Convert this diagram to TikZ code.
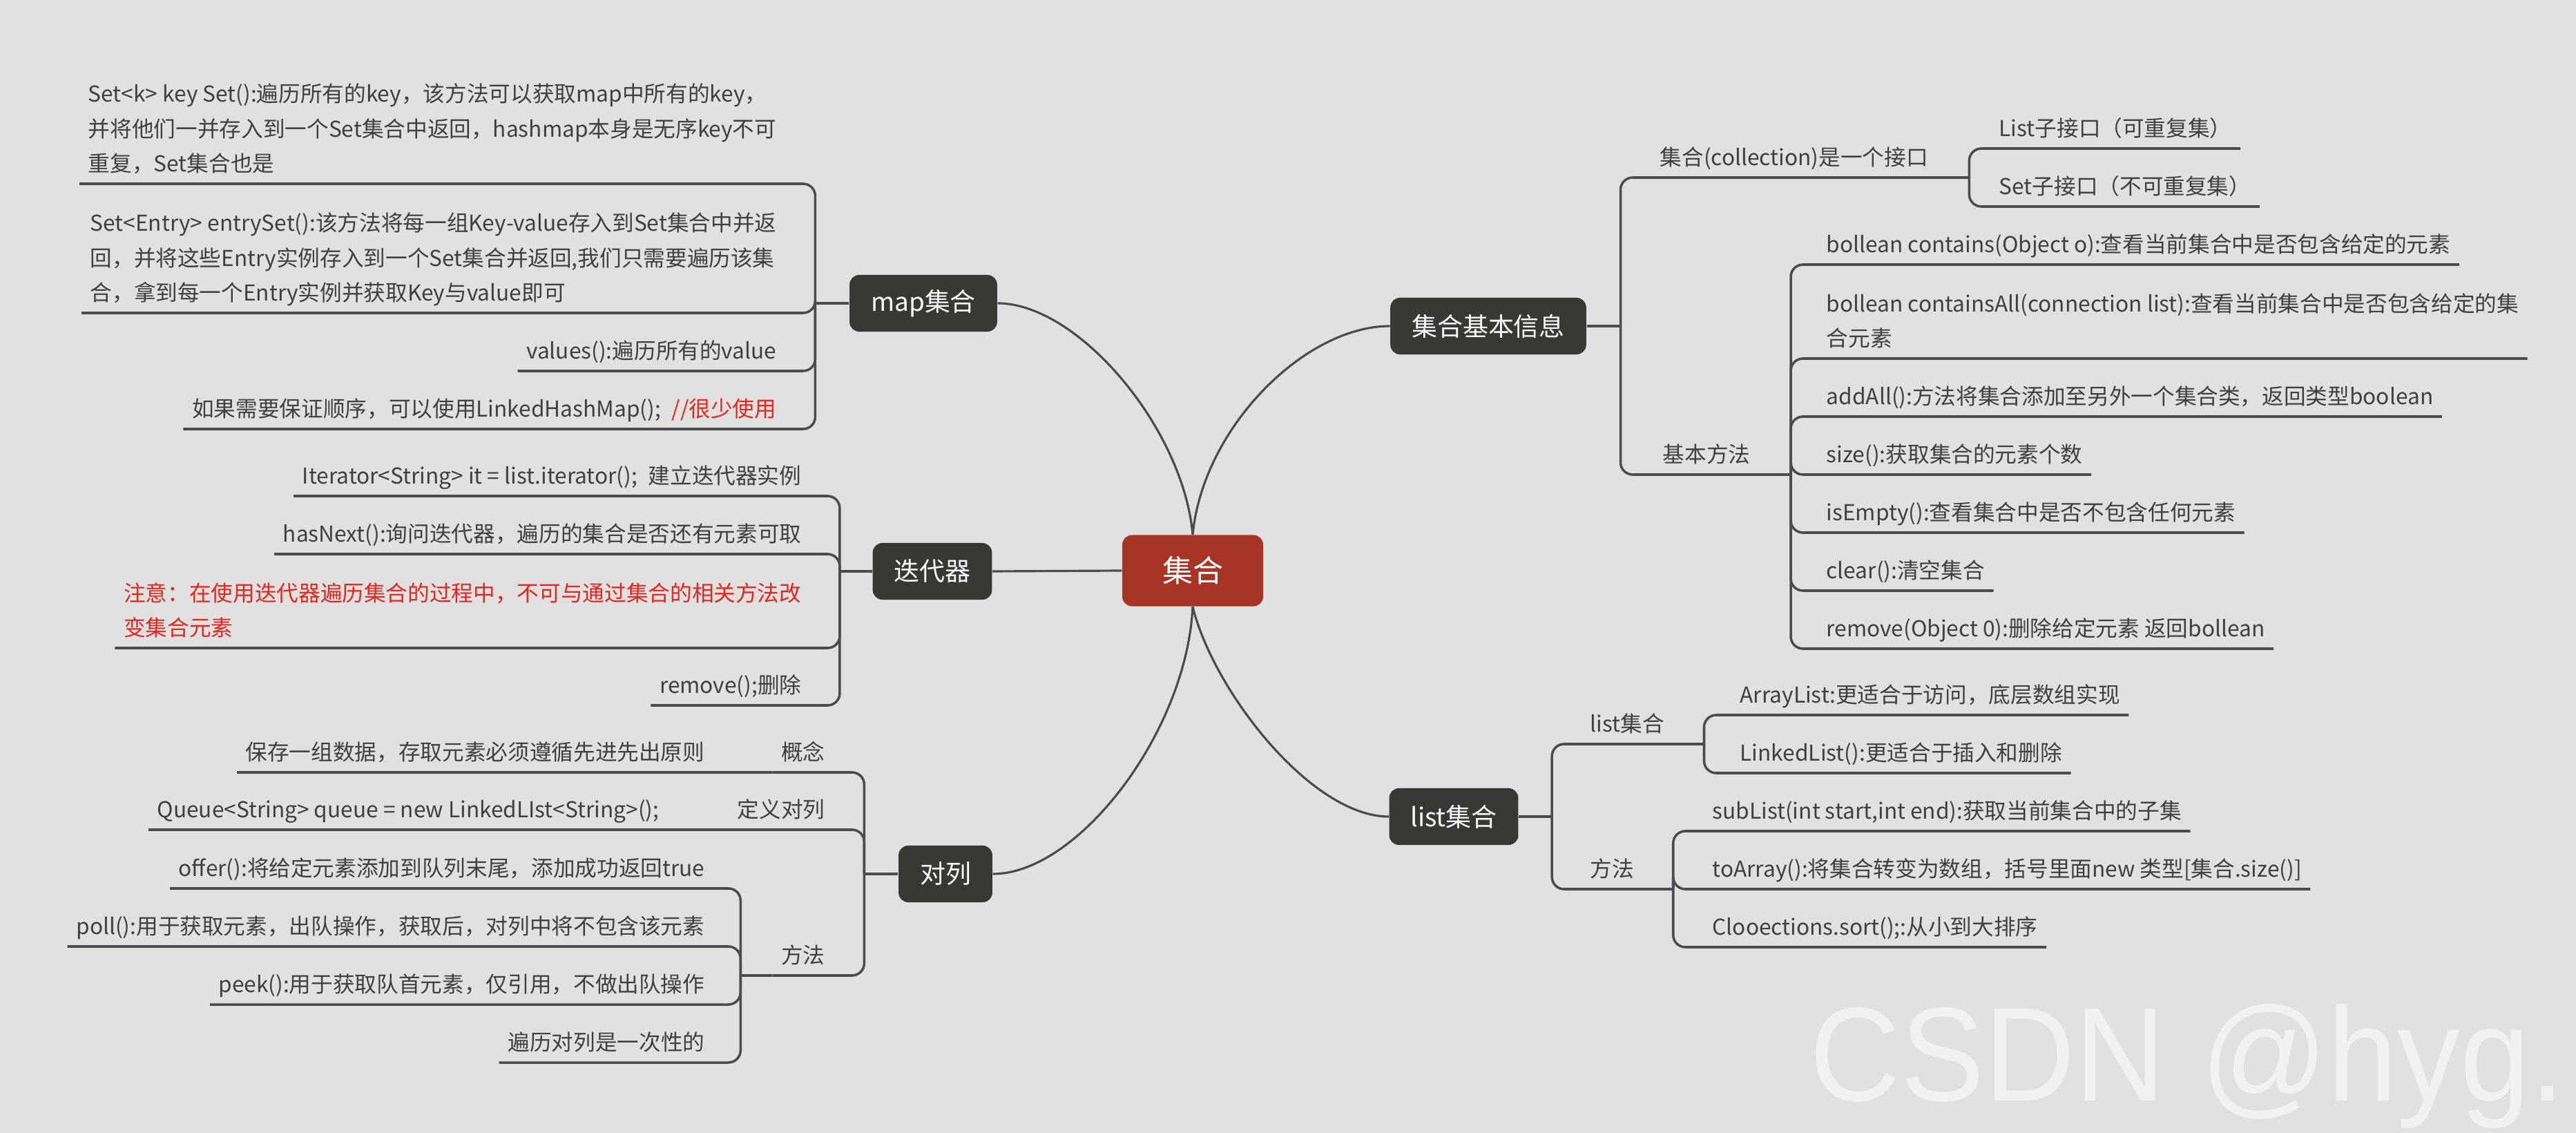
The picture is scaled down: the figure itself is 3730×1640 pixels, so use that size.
\documentclass[tikz,border=0pt]{standalone}
\usepackage{fontspec}
\setmainfont{Noto Sans CJK SC}
\newfontfamily\markfont[FakeStretch=0.94]{Liberation Sans}
\usepackage{xcolor}
\usetikzlibrary{positioning, calc}

\definecolor{bgc}{HTML}{E0E0E0}
\definecolor{linec}{HTML}{4B4A50}
\definecolor{boxc}{HTML}{393933}
\definecolor{rootc}{HTML}{A63526}
\definecolor{textc}{HTML}{3F3F3F}
\definecolor{notec}{HTML}{E4261E}
\definecolor{markc}{HTML}{F1F1F1}

\newcommand{\leaffont}{\fontsize{9pt}{14.3pt}\selectfont}
\newcommand{\topicfont}{\fontsize{10.5pt}{12pt}\selectfont}
\newcommand{\rootfont}{\fontsize{12.5pt}{15pt}\selectfont}

\begin{document}
\begin{tikzpicture}[
    x=0.01cm, y=-0.01cm,
    root/.style={rectangle, rounded corners=4pt, fill=rootc, text=white, font=\rootfont, inner xsep=0.58cm, minimum height=1.03cm},
    topic/.style={rectangle, rounded corners=4pt, fill=boxc, text=white, font=\topicfont, inner xsep=0.31cm, minimum height=0.82cm},
    leaf/.style={font=\leaffont, text=textc, align=left, inner xsep=0.12cm, inner ysep=0.5pt, execute at begin node=\strut, execute at end node=\strut},
    lleaf/.style={leaf, anchor=south east},
    rleaf/.style={leaf, anchor=south west},
    trunk/.style={draw=linec, line width=0.9pt},
    branch/.style={draw=linec, line width=1pt, rounded corners=5pt}
]
% Background
\fill[bgc] (0,0) rectangle (3730,1640);

% Main topics
\node[root] (central) at (1727,826) {集合};
\node[topic] (map) at (1337,439) {map集合};
\node[topic] (iter) at (1350,827) {迭代器};
\node[topic] (queue) at (1369,1265) {对列};
\node[topic] (info) at (2155,472) {集合基本信息};
\node[topic] (list) at (2105,1182) {list集合};

% map branch
\node[lleaf] (m1) at (1137,266) {Set<k> key Set():遍历所有的key，该方法可以获取map中所有的key，\\并将他们一并存入到一个Set集合中返回，hashmap本身是无序key不可\\重复，Set集合也是};
\node[lleaf] (m2) at (1137,453) {Set<Entry> entrySet():该方法将每一组Key-value存入到Set集合中并返\\回，并将这些Entry实例存入到一个Set集合并返回,我们只需要遍历该集\\合，拿到每一个Entry实例并获取Key与value即可};
\node[lleaf] (m3) at (1137,537) {values():遍历所有的value};
\node[lleaf] (m4) at (1137,621) {如果需要保证顺序，可以使用LinkedHashMap();\hspace{0.5em}{\color{notec}//很少使用}};

% iterator branch
\node[lleaf] (i1) at (1173,718) {Iterator<String> it = list.iterator();\hspace{0.5em}建立迭代器实例};
\node[lleaf] (i2) at (1173,802) {hasNext():询问迭代器，遍历的集合是否还有元素可取};
\node[lleaf, text=notec] (i3) at (1173,938) {注意：在使用迭代器遍历集合的过程中，不可与通过集合的相关方法改\\变集合元素};
\node[lleaf] (i4) at (1173,1021) {remove();删除};

% queue branch
\node[lleaf] (q1) at (1207,1118) {概念};
\node[lleaf] (q1a) at (1033,1118) {保存一组数据，存取元素必须遵循先进先出原则};
\node[lleaf] (q2) at (1207,1201) {定义对列};
\node[lleaf] (q2a) at (967,1201) {Queue<String> queue = new LinkedLIst<String>();};
\node[lleaf] (q3) at (1207,1412) {方法};
\node[lleaf] (q3a) at (1033,1286) {offer():将给定元素添加到队列末尾，添加成功返回true};
\node[lleaf] (q3b) at (1033,1370) {poll():用于获取元素，出队操作，获取后，对列中将不包含该元素};
\node[lleaf] (q3c) at (1033,1454) {peek():用于获取队首元素，仅引用，不做出队操作};
\node[lleaf] (q3d) at (1033,1538) {遍历对列是一次性的};

% info branch
\node[rleaf] (r1) at (2391,257) {集合(collection)是一个接口};
\node[rleaf] (r1a) at (2882,215) {List子接口（可重复集）};
\node[rleaf] (r1b) at (2882,299) {Set子接口（不可重复集）};
\node[rleaf] (r2) at (2395,687) {基本方法};
\node[rleaf] (r2a) at (2632,383) {bollean contains(Object o):查看当前集合中是否包含给定的元素};
\node[rleaf] (r2b) at (2632,519) {bollean containsAll(connection list):查看当前集合中是否包含给定的集\\合元素};
\node[rleaf] (r2c) at (2632,603) {addAll():方法将集合添加至另外一个集合类，返回类型boolean};
\node[rleaf] (r2d) at (2632,687) {size():获取集合的元素个数};
\node[rleaf] (r2e) at (2632,771) {isEmpty():查看集合中是否不包含任何元素};
\node[rleaf] (r2f) at (2632,855) {clear():清空集合};
\node[rleaf] (r2g) at (2632,939) {remove(Object 0):删除给定元素 返回bollean};

% list branch
\node[rleaf] (l1) at (2290,1077) {list集合};
\node[rleaf] (l1a) at (2507,1035) {ArrayList:更适合于访问，底层数组实现};
\node[rleaf] (l1b) at (2507,1119) {LinkedList():更适合于插入和删除};
\node[rleaf] (l2) at (2290,1287) {方法};
\node[rleaf] (l2a) at (2467,1203) {subList(int start,int end):获取当前集合中的子集};
\node[rleaf] (l2b) at (2467,1287) {toArray():将集合转变为数组，括号里面new 类型[集合.size()]};
\node[rleaf] (l2c) at (2467,1371) {Clooections.sort();:从小到大排序};

% Watermark
\node[anchor=base west, inner sep=0pt, text=markc, font={\markfont\fontsize{55pt}{60pt}\selectfont}] (mark) at (2620,1593) {CSDN @hyg.};

% Curves from the centre
\draw[trunk] (central.north) .. controls +(-14,-155) and +(116,0) .. (map.east);
\draw[trunk] (central.north) .. controls +(15,-155) and +(-123,0) .. (info.west);
\draw[trunk] (central.west) -- (iter.east);
\draw[trunk] (central.south) .. controls +(-9,182) and +(123,0) .. (queue.east);
\draw[trunk] (central.south) .. controls +(30,122) and +(-112,0) .. (list.west);

% Junctions
\coordinate (jmap) at ($(map.west)+(-49,0)$);
\coordinate (jit) at ($(iter.west)+(-47,0)$);
\coordinate (jq) at ($(queue.west)+(-49,0)$);
\coordinate (jq3) at ($(q3.south west)+(-46,0)$);
\coordinate (jinfo) at ($(info.east)+(49,0)$);
\coordinate (jr1) at ($(r1.south east)+(47,0)$);
\coordinate (jr2) at ($(r2.south east)+(46,0)$);
\coordinate (jl) at ($(list.east)+(48,0)$);
\coordinate (jl1) at ($(l1.south east)+(45,0)$);
\coordinate (jl2) at ($(l2.south east)+(44,0)$);

% map connectors
\draw[branch] (map.west) -- (jmap);
\draw[branch] (jmap) |- (m1.south west);
\draw[branch] (jmap) |- (m2.south west);
\draw[branch] (jmap) |- (m3.south west);
\draw[branch] (jmap) |- (m4.south west);

% iterator connectors
\draw[branch] (iter.west) -- (jit);
\draw[branch] (jit) |- (i1.south west);
\draw[branch] (jit) |- (i2.south west);
\draw[branch] (jit) |- (i3.south west);
\draw[branch] (jit) |- (i4.south west);

% queue connectors
\draw[branch] (queue.west) -- (jq);
\draw[branch] (jq) |- (q1.south west);
\draw[branch] (q1.south west) -- (q1a.south west);
\draw[branch] (jq) |- (q2.south west);
\draw[branch] (q2.south west) -- (q2a.south west);
\draw[branch] (jq) |- (q3.south west);
\draw[branch] (q3.south west) -- (jq3);
\draw[branch] (jq3) |- (q3a.south west);
\draw[branch] (jq3) |- (q3b.south west);
\draw[branch] (jq3) |- (q3c.south west);
\draw[branch] (jq3) |- (q3d.south west);

% info connectors
\draw[branch] (info.east) -- (jinfo);
\draw[branch] (jinfo) |- (r1.south east);
\draw[branch] (r1.south east) -- (jr1);
\draw[branch] (jr1) |- (r1a.south east);
\draw[branch] (jr1) |- (r1b.south east);
\draw[branch] (jinfo) |- (r2.south east);
\draw[branch] (r2.south east) -- (jr2);
\draw[branch] (jr2) |- (r2a.south east);
\draw[branch] (jr2) |- (r2b.south east);
\draw[branch] (jr2) |- (r2c.south east);
\draw[branch] (jr2) |- (r2d.south east);
\draw[branch] (jr2) |- (r2e.south east);
\draw[branch] (jr2) |- (r2f.south east);
\draw[branch] (jr2) |- (r2g.south east);

% list connectors
\draw[branch] (list.east) -- (jl);
\draw[branch] (jl) |- (l1.south east);
\draw[branch] (l1.south east) -- (jl1);
\draw[branch] (jl1) |- (l1a.south east);
\draw[branch] (jl1) |- (l1b.south east);
\draw[branch] (jl) |- (l2.south east);
\draw[branch] (l2.south east) -- (jl2);
\draw[branch] (jl2) |- (l2a.south east);
\draw[branch] (jl2) |- (l2b.south east);
\draw[branch] (jl2) |- (l2c.south east);
\end{tikzpicture}
\end{document}
